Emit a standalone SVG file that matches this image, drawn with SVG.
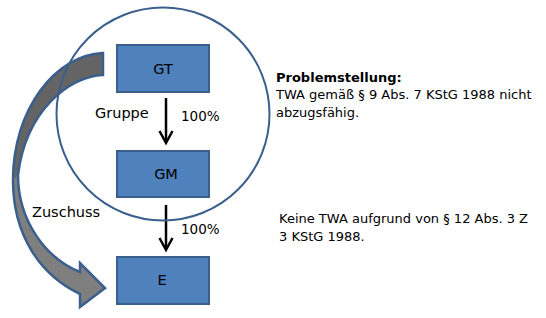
<svg xmlns="http://www.w3.org/2000/svg" width="546" height="318" viewBox="0 0 546 318">
<style>
.box{fill:#4f81bd;stroke:#3a5f8c;stroke-width:2}
.lbl{font-family:"DejaVu Sans",Verdana,sans-serif;font-size:14.5px;fill:#000}
.pct{font-family:"DejaVu Sans",Verdana,sans-serif;font-size:13.5px;fill:#000}
.txt{font-family:"DejaVu Sans",Verdana,sans-serif;font-size:13px;fill:#000}
.arr{stroke:#000;stroke-width:2.5;fill:none}
</style>
<rect width="546" height="318" fill="#fff"/>
<g id="connectors">
<g id="zuschuss-arrow">
<path d="M103,53 L103,75 C70,76 26,110 18,175 C18,220 45,258 80,272 L80,263 L105,288 L80,307 L80,294 C40,275 13,235 13,180 C13,110 55,55 103,53 Z" fill="#7f7f7f"/>
<path d="M103,53 L103,75 C70,76 26,110 18,175 L13,180 C13,110 55,55 103,53 Z" fill="#646464"/>
<path d="M103,53 L103,75 C70,76 26,110 18,175 C18,220 45,258 80,272 L80,263 L105,288 L80,307 L80,294 C40,275 13,235 13,180 C13,110 55,55 103,53 Z" fill="none" stroke="#3a5f8c" stroke-width="2.5"/>
</g>
<line class="arr" x1="166" y1="98" x2="166" y2="142"/>
<polyline class="arr" points="159.5,131 166,143 172.5,131"/>
<line class="arr" x1="166" y1="205" x2="166" y2="249"/>
<polyline class="arr" points="159.5,238 166,250 172.5,238"/>
</g>
<g id="gruppe">
<circle cx="163" cy="114" r="106.5" fill="none" stroke="#3a5f8c" stroke-width="2"/>
</g>
<g id="GT"><rect class="box" x="117" y="45" width="92" height="47"/><text class="lbl" x="163" y="74" text-anchor="middle">GT</text></g>
<g id="GM"><rect class="box" x="117" y="151" width="92" height="46"/><text class="lbl" x="166" y="179" text-anchor="middle">GM</text></g>
<g id="E"><rect class="box" x="117" y="257" width="92" height="47"/><text class="lbl" x="162" y="285" text-anchor="middle">E</text></g>
<g id="labels">
<text class="lbl" x="95" y="118">Gruppe</text>
<text class="pct" x="181" y="121">100%</text>
<text class="pct" x="181" y="234">100%</text>
<text class="lbl" x="32" y="217">Zuschuss</text>
<text class="txt" x="276" y="82" font-weight="bold" font-size="12.5px">Problemstellung:</text>
<text class="txt" x="276" y="99">TWA gemäß § 9 Abs. 7 KStG 1988 nicht</text>
<text class="txt" x="276" y="117">abzugsfähig.</text>
<text class="txt" x="279" y="223">Keine TWA aufgrund von § 12 Abs. 3 Z</text>
<text class="txt" x="279" y="241">3 KStG 1988.</text>
</g>
</svg>
